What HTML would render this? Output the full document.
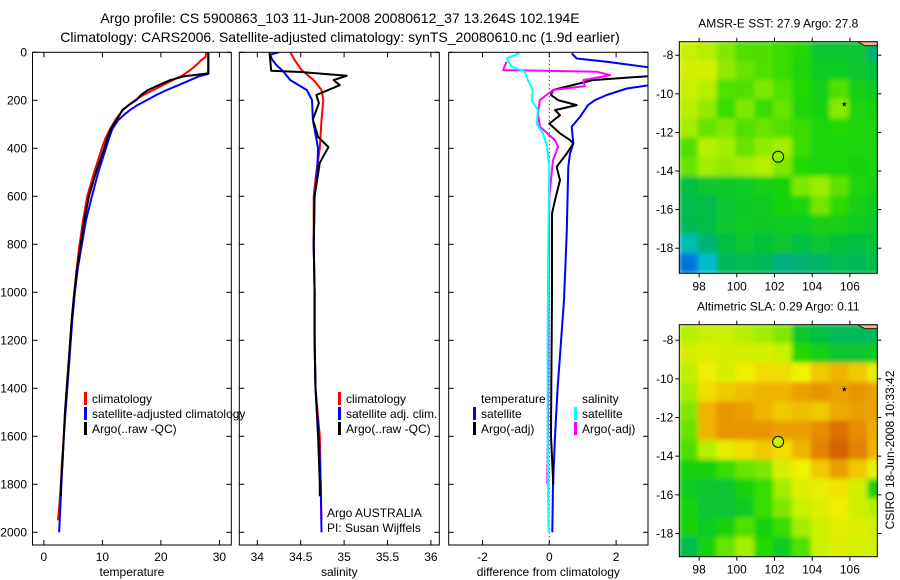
<!DOCTYPE html>
<html><head><meta charset="utf-8"><style>
html,body{margin:0;padding:0;background:#fff;}
svg{display:block;font-family:"Liberation Sans",sans-serif;}
</style></head><body>
<svg id="fig" width="900" height="580" viewBox="0 0 900 580" xmlns="http://www.w3.org/2000/svg">
<defs>
<clipPath id="c1"><rect x="32.5" y="52.3" width="199" height="492.7"/></clipPath>
<clipPath id="c2"><rect x="239.3" y="52.3" width="200" height="492.7"/></clipPath>
<clipPath id="c3"><rect x="448.7" y="52.3" width="199.3" height="492.7"/></clipPath>
<clipPath id="m1"><rect x="679.3" y="41.7" width="198" height="231.6"/></clipPath>
<clipPath id="m2"><rect x="679.3" y="324.7" width="198" height="232"/></clipPath>
<filter id="bl" x="-5%" y="-5%" width="110%" height="110%"><feGaussianBlur stdDeviation="2.5"/></filter>
</defs>
<text x="340" y="23" font-size="14" text-anchor="middle">Argo profile: CS 5900863_103 11-Jun-2008 20080612_37 13.264S 102.194E</text>
<text x="340" y="42" font-size="14" text-anchor="middle">Climatology: CARS2006. Satellite-adjusted climatology: synTS_20080610.nc (1.9d earlier)</text>
<g id="g1"></g>
<g id="g2"></g>
<g id="g3"></g>
<g id="gm1"></g>
<g id="gm2"></g>
<text transform="translate(894,450) rotate(-90)" font-size="12" text-anchor="middle">CSIRO 18-Jun-2008 10:33:42</text>
</svg>
<script>
// ---- data ----
const depthTicks=[0,200,400,600,800,1000,1200,1400,1600,1800,2000];
const tempTicks=[0,10,20,30];
const salTicks=[34,34.5,35,35.5,36];
const diffTicks=[-2,0,2];
const lonTicks=[98,100,102,104,106];
const latTicks=[-8,-10,-12,-14,-16,-18];

const tClimDepth=[0,20,32,50,74,95,116,137,157,178,199,220,241,262,282,320,360,400,500,600,700,800,900,1000,1100,1200,1300,1400,1500,1600,1700,1800,1900,1950];
const tClimVal=[27.8,27.6,26.9,26.2,25,23.8,22,20.3,18.7,17,15.6,14.5,13.5,12.8,12.2,11.3,10.5,9.9,8.6,7.4,6.7,6.1,5.6,5.2,4.8,4.5,4.2,3.9,3.6,3.4,3.1,2.9,2.6,2.4];
const tSatDepth=[0,90,100,116,137,157,178,199,220,241,262,282,320,360,400,500,600,700,800,900,1000,1100,1200,1300,1400,1500,1600,1700,1800,1900,2000];
const tSatVal=[28.1,28.1,26.5,25,23,21,19.2,17.6,16,14.7,13.6,12.7,11.7,11.1,10.6,9.3,8.2,7.2,6.5,5.8,5.3,4.9,4.6,4.3,4.0,3.7,3.4,3.2,3.0,2.8,2.6];
const tArgoDepth=[0,88,100,116,137,157,178,199,220,241,262,282,320,360,400,500,600,700,800,900,1000,1100,1200,1300,1400,1500,1600,1700,1800,1850];
const tArgoVal=[28.1,28.1,24,21.6,19.6,17.8,16.6,15.8,14.5,13.4,12.9,12.4,11.4,10.8,10.3,8.9,7.7,6.9,6.3,5.7,5.2,4.8,4.5,4.2,3.9,3.6,3.4,3.2,2.9,2.9];

const sClimDepth=[0,32,74,116,157,199,282,400,500,600,800,1000,1200,1400,1600,1800,1950];
const sClimVal=[34.38,34.43,34.51,34.65,34.74,34.76,34.74,34.72,34.68,34.65,34.65,34.66,34.66,34.67,34.72,34.73,34.74];
const sSatDepth=[0,10,30,53,80,116,157,199,282,400,500,600,800,1000,1200,1400,1600,1800,2000];
const sSatVal=[34.25,34.15,34.17,34.22,34.3,34.38,34.57,34.63,34.64,34.70,34.69,34.66,34.65,34.66,34.66,34.67,34.71,34.73,34.74];
const sArgoDepth=[0,77,82,98,116,137,178,212,280,353,395,460,600,800,1000,1200,1400,1600,1800,1850];
const sArgoVal=[34.14,34.16,34.5,35.03,34.88,34.95,34.68,34.71,34.64,34.7,34.82,34.72,34.66,34.65,34.66,34.66,34.67,34.7,34.72,34.72];

const dTSatDepth=[4,26,39,67,100,137,151,178,199,220,269,310,380,422,477,755,1033,1400,1600,1800,2000];
const dTSatVal=[0.67,0.82,1.72,3.2,3.2,3.0,2.32,1.72,1.37,1.16,0.92,0.67,0.72,0.62,0.57,0.52,0.44,0.25,0.17,0.11,0.09];
const dTArgoDepth=[81,99,116,157,178,199,220,241,262,297,338,366,380,422,477,533,616,672,1000,1400,1600,1800];
const dTArgoVal=[3.2,3.0,1.3,0.11,0.05,0.26,0.82,0.17,0.32,0.0,0.32,0.62,0.72,0.52,0.22,0.32,0.17,0.08,0.08,0.06,0.05,0.12];
const dSSatDepth=[4,26,60,81,116,157,199,241,297,338,394,477,800,1200,1600,2000];
const dSSatVal=[-0.9,-1.28,-1.13,-0.73,-0.64,-0.49,-0.53,-0.34,-0.38,-0.19,-0.07,0,-0.03,-0.05,-0.05,-0.02];
const dSArgoDepth=[39,74,81,95,116,141,157,199,255,310,366,394,450,600,1000,1400,1800];
const dSArgoVal=[-1.28,-1.38,1.42,1.82,1.02,1.06,0.11,-0.28,-0.34,-0.28,0.17,0.26,0.11,0.0,-0.02,-0.03,-0.06];

const sstGrid=[
[.74,.72,.66,.62,.62,.60,.58,.52,.52,.52,.42],
[.76,.76,.68,.64,.62,.60,.57,.54,.54,.52,.50],
[.74,.72,.62,.62,.66,.62,.58,.55,.62,.55,.54],
[.72,.68,.60,.66,.60,.64,.57,.56,.67,.57,.56],
[.70,.64,.66,.62,.64,.62,.60,.57,.58,.57,.57],
[.62,.72,.70,.64,.68,.70,.60,.57,.57,.57,.57],
[.64,.70,.68,.70,.72,.66,.58,.57,.57,.56,.57],
[.50,.52,.53,.54,.55,.56,.66,.69,.63,.57,.55],
[.48,.49,.52,.53,.54,.56,.57,.65,.59,.55,.54],
[.47,.49,.52,.54,.53,.54,.54,.55,.55,.54,.52],
[.34,.42,.50,.52,.51,.52,.50,.52,.51,.49,.51],
[.22,.32,.46,.48,.46,.40,.42,.44,.48,.46,.49]];
const slaGrid=[
[.72,.74,.74,.72,.70,.66,.52,.50,.46,.46,.46],
[.76,.77,.76,.76,.76,.74,.58,.55,.52,.52,.54],
[.73,.80,.76,.80,.82,.82,.80,.84,.86,.84,.78],
[.70,.82,.84,.85,.86,.86,.88,.89,.88,.89,.88],
[.66,.86,.89,.88,.86,.84,.85,.84,.87,.88,.88],
[.64,.86,.89,.89,.89,.88,.88,.90,.93,.90,.87],
[.62,.72,.78,.82,.84,.82,.86,.91,.95,.91,.86],
[.56,.56,.60,.64,.66,.76,.80,.84,.88,.84,.78],
[.54,.52,.52,.56,.60,.70,.77,.79,.81,.76,.56],
[.56,.52,.52,.54,.60,.66,.74,.77,.80,.75,.72],
[.56,.54,.56,.62,.56,.60,.70,.75,.78,.77,.75],
[.48,.56,.64,.70,.58,.54,.62,.74,.77,.76,.75],
[.48,.56,.64,.70,.58,.54,.62,.74,.77,.76,.75]];
const floatLon=102.194, floatLat=-13.264;
const starLon=105.7, starLat=-10.5;

// ---- helpers ----
const NS="http://www.w3.org/2000/svg";
function mk(tag,attrs,parent){const e=document.createElementNS(NS,tag);for(const k in attrs)e.setAttribute(k,attrs[k]);parent.appendChild(e);return e;}
const yD=d=>52.3+0.24*d;

function panel(g,x0,x1,xScale,xt,xlabel,clip){
  for(const d of depthTicks){
    const y=yD(d);
    const t=mk('line',{x1:x0,y1:y,x2:x0+5,y2:y,stroke:'#000'},g);
    
    
    const t2=mk('line',{x1:x1-5,y1:y,x2:x1,y2:y,stroke:'#000'},g);
    
    
  }
  for(const v of xt){
    const x=xScale(v);
    const a=mk('line',{x1:x,y1:545,x2:x,y2:540,stroke:'#000'},g);
    
    
    const b=mk('line',{x1:x,y1:52.3,x2:x,y2:57.3,stroke:'#000'},g);
    
    
    const l=mk('text',{x:x,y:561,'font-size':12,'text-anchor':'middle'},g);
    l.textContent=String(v);
    
    
  }
  const xl=mk('text',{x:(x0+x1)/2,y:576,'font-size':12,'text-anchor':'middle'},g);
  xl.textContent=xlabel;
  
  
  const r=mk('rect',{x:x0,y:52.3,width:x1-x0,height:492.7,fill:'none',stroke:'#000','stroke-width':1},g);
  
  
}
function series(g,depths,vals,xScale,color,clip,name){
  let d='';
  for(let i=0;i<depths.length;i++)d+=(i?'L':'M')+xScale(vals[i]).toFixed(1)+','+yD(depths[i]).toFixed(1);
  const p=mk('path',{d:d,fill:'none',stroke:color,'stroke-width':2,'clip-path':'url(#'+clip+')','stroke-linejoin':'round'},g);
  
  
}
function legend(g,x,y,color,text,name){
  const b=mk('rect',{x:x,y:y-11,width:3,height:13,fill:color},g);
  
  
  const t=mk('text',{x:x+8,y:y,'font-size':12},g);
  t.textContent=text;
  
  
}

// ---- panel 1: temperature ----
const g1=document.getElementById('g1');
const xT=v=>43.9+5.85*v;
for(const d of depthTicks){
  const l=mk('text',{x:27,y:yD(d)+4,'font-size':12,'text-anchor':'end'},g1);
  l.textContent=String(d);
  
  
}
series(g1,tClimDepth,tClimVal,xT,'#ff0000','c1','temp-climatology-line');
series(g1,tSatDepth,tSatVal,xT,'#0000ff','c1','temp-satellite-line');
series(g1,tArgoDepth,tArgoVal,xT,'#000000','c1','temp-argo-line');
panel(g1,32.5,231.3,xT,tempTicks,'temperature','c1');
legend(g1,84,403,'#ff0000','climatology','legend-climatology');
legend(g1,84,418,'#0000ff','satellite-adjusted climatology','legend-satellite-adjusted');
legend(g1,84,433,'#000000','Argo(..raw -QC)','legend-argo');

// ---- panel 2: salinity ----
const g2=document.getElementById('g2');
const xS=v=>257.3+86.8*(v-34);
series(g2,sClimDepth,sClimVal,xS,'#ff0000','c2','sal-climatology-line');
series(g2,sSatDepth,sSatVal,xS,'#0000ff','c2','sal-satellite-line');
series(g2,sArgoDepth,sArgoVal,xS,'#000000','c2','sal-argo-line');
panel(g2,239.3,439.3,xS,salTicks,'salinity','c2');
legend(g2,338,403,'#ff0000','climatology','legend-sal-climatology');
legend(g2,338,418,'#0000ff','satellite adj. clim.','legend-sal-satellite');
legend(g2,338,433,'#000000','Argo(..raw -QC)','legend-sal-argo');
const a1=mk('text',{x:327,y:517,'font-size':12},g2);a1.textContent='Argo AUSTRALIA';


const a2=mk('text',{x:327,y:532,'font-size':12},g2);a2.textContent='PI: Susan Wijffels';



// ---- panel 3: difference ----
const g3=document.getElementById('g3');
const xD=v=>549.3+33.4*v;
const z=mk('line',{x1:xD(0),y1:52.3,x2:xD(0),y2:545,stroke:'#000','stroke-dasharray':'1,3'},g3);


series(g3,dTSatDepth,dTSatVal,xD,'#0000ff','c3','diff-temp-satellite-line');
series(g3,dTArgoDepth,dTArgoVal,xD,'#000000','c3','diff-temp-argo-line');
series(g3,dSArgoDepth,dSArgoVal,xD,'#ff00ff','c3','diff-sal-argo-line');
series(g3,dSSatDepth,dSSatVal,xD,'#00ffff','c3','diff-sal-satellite-line');
panel(g3,448.7,648,xD,diffTicks,'difference from climatology','c3');
const h1=mk('text',{x:481,y:403,'font-size':12},g3);h1.textContent='temperature';


const h2=mk('text',{x:582,y:403,'font-size':12},g3);h2.textContent='salinity';


legend(g3,473,418,'#0000ff','satellite','legend-temp-satellite');
legend(g3,473,433,'#000000','Argo(-adj)','legend-temp-argo');
legend(g3,574,418,'#00ffff','satellite','legend-sal-satellite-diff');
legend(g3,574,433,'#ff00ff','Argo(-adj)','legend-sal-argo-diff');

// ---- maps ----
const stops=[[0,[0,0,170]],[0.2,[0,96,224]],[0.3,[0,192,224]],[0.4,[0,176,128]],[0.5,[0,192,64]],[0.58,[32,216,0]],[0.66,[128,232,0]],[0.74,[200,240,0]],[0.8,[240,240,0]],[0.86,[240,180,0]],[0.92,[224,120,0]],[1,[192,64,0]]];
function cmap(v){
  for(let i=1;i<stops.length;i++){if(v<=stops[i][0]){const a=stops[i-1],b=stops[i],t=(v-a[0])/(b[0]-a[0]);
    return 'rgb('+a[1].map((c,k)=>Math.round(c+(b[1][k]-c)*t)).join(',')+')';}}
  return 'rgb(192,64,0)';
}
function map(gid,clip,top,bottom,latTop,latBot,grid,title,circFill){
  const g=document.getElementById(gid);
  const L=679.3,R=877.3;
  const xL=lon=>L+(lon-96.95)*18.85;
  const yL=lat=>top+(latTop-lat)*(bottom-top)/(latTop-latBot);
  const cells=mk('g',{'clip-path':'url(#'+clip+')'},g);
  const inner=mk('g',{filter:'url(#bl)'},cells);
  for(let r=0;r<grid.length;r++)for(let c=0;c<grid[r].length;c++){
    const x=xL(96.95+c),y=yL(latTop-r);
    const cell=mk('rect',{x:x-0.5,y:y-0.5,width:xL(97.95+c)-x+1,height:yL(latTop-r-1)-y+1,fill:cmap(grid[r][c])},inner);
    
    
  }
  const land=mk('path',{d:'M'+xL(106.4)+','+top+' L'+R+','+top+' L'+R+','+(top+4)+' L'+xL(106.8)+','+(top+4)+' Z',fill:'#ffb08a',stroke:'#000','stroke-width':0.8},cells);
  
  
  const ci=mk('circle',{cx:xL(floatLon),cy:yL(floatLat),r:5.5,fill:circFill,stroke:'#000','stroke-width':1},g);
  
  
  const st=mk('text',{x:xL(starLon),y:yL(starLat)+3,'font-size':7,'text-anchor':'middle'},g);st.textContent='★';
  
  
  const fr=mk('rect',{x:L,y:top,width:R-L,height:bottom-top,fill:'none',stroke:'#000'},g);
  
  
  for(const lon of lonTicks){
    const x=xL(lon);
    const tk=mk('line',{x1:x,y1:bottom,x2:x,y2:bottom+4,stroke:'#000'},g);
    
    
    const tk2=mk('line',{x1:x,y1:top,x2:x,y2:top-4,stroke:'#000'},g);
    
    
    const l=mk('text',{x:x,y:bottom+17,'font-size':12,'text-anchor':'middle'},g);l.textContent=String(lon);
    
    
  }
  for(const lat of latTicks){
    const y=yL(lat);
    const tk=mk('line',{x1:L,y1:y,x2:L-4,y2:y,stroke:'#000'},g);
    
    
    const tk2=mk('line',{x1:R,y1:y,x2:R+4,y2:y,stroke:'#000'},g);
    
    
    const l=mk('text',{x:L-6,y:y+4,'font-size':12,'text-anchor':'end'},g);l.textContent=String(lat);
    
    
  }
  const t=mk('text',{x:(L+R)/2,y:top-14,'font-size':12,'text-anchor':'middle'},g);t.textContent=title;
  
  
}
map('gm1','m1',41.7,273.3,-7.3,-19.3,sstGrid,'AMSR-E SST: 27.9 Argo: 27.8','none');
map('gm2','m2',324.7,556.7,-7.2,-19.2,slaGrid,'Altimetric SLA: 0.29 Argo: 0.11','rgb(200,240,0)');
</script>
</body></html>
